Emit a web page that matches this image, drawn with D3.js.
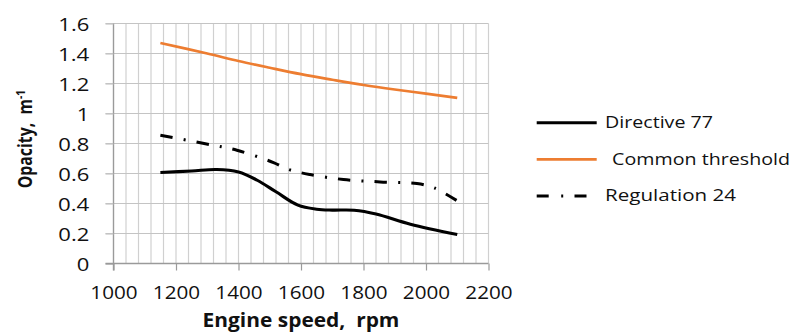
<!DOCTYPE html>
<html>
<head>
<meta charset="utf-8">
<script src="https://cdn.jsdelivr.net/npm/d3@7"></script>
<style>
  html, body { margin: 0; padding: 0; background: #fff; }
  svg { display: block; }
  text { font-family: "Open Sans", sans-serif; fill: #111; white-space: pre; }
</style>
</head>
<body>
<svg id="chart" width="794" height="336"></svg>
<script>
// ---------- data ----------
const d77Speed  = [1150, 1250, 1330, 1400, 1460, 1520, 1590, 1650, 1700, 1770, 1840, 1950, 2100];
const d77Value  = [0.607, 0.617, 0.627, 0.610, 0.555, 0.478, 0.389, 0.362, 0.356, 0.355, 0.330, 0.262, 0.193];

const ctSpeed   = [1150, 1300, 1400, 1500, 1600, 1700, 1800, 1900, 2000, 2100];
const ctValue   = [1.47, 1.40, 1.35, 1.305, 1.262, 1.225, 1.19, 1.16, 1.133, 1.104];

const r24Speed  = [1150, 1290, 1395, 1512, 1560, 1629, 1736, 1853, 1971, 2026, 2100];
const r24Value  = [0.855, 0.80, 0.755, 0.673, 0.627, 0.593, 0.56, 0.544, 0.533, 0.504, 0.418];

const xTicks = [1000, 1200, 1400, 1600, 1800, 2000, 2200];
const yTicks = [0, 0.2, 0.4, 0.6, 0.8, 1, 1.2, 1.4, 1.6];
const seriesNames = ["Directive 77", " Common threshold", "Regulation 24"];

// ---------- layout ----------
const svg = d3.select("#chart");
const x = d3.scaleLinear().domain([1000, 2200]).range([113.5, 488.5]);
const y = d3.scaleLinear().domain([0, 1.6]).range([263.5, 23.5]);

function fitWidth(sel, target, ax, ay) {
  sel.each(function () {
    const w = this.getBBox().width;
    const k = target / w;
    d3.select(this).attr("transform", `translate(${ax},${ay}) scale(${k},1) translate(${-ax},${-ay})`);
  });
}

// grid
const grid = svg.append("g");
grid.selectAll("line.v").data(d3.range(1040, 2201, 40)).join("line")
  .attr("x1", d => x(d)).attr("x2", d => x(d))
  .attr("y1", y(0)).attr("y2", y(1.6))
  .attr("stroke", "#d0d0d0").attr("stroke-width", 1.2);
grid.selectAll("line.h").data(yTicks.slice(1)).join("line")
  .attr("x1", x(1000) - 8).attr("x2", x(2200))
  .attr("y1", d => y(d)).attr("y2", d => y(d))
  .attr("stroke", "#c4c4c4").attr("stroke-width", 1.2);

// axes
const xAxis = svg.append("g").attr("transform", `translate(0,${y(0)})`)
  .call(d3.axisBottom(x).tickValues(xTicks).tickSize(7).tickFormat(d3.format("d")));
xAxis.select(".domain").attr("stroke", "#9a9a9a").attr("stroke-width", 1.4)
  .attr("d", `M${x(1000) - 8},0H${x(2200)}`);
xAxis.selectAll(".tick line").attr("stroke", "#9a9a9a").attr("stroke-width", 1.2);
xAxis.selectAll(".tick text").attr("dy", 0)
  .style("font-family", "'Open Sans', sans-serif").style("font-size", "18.8px").attr("fill", "#111")
  .attr("y", 35.8);

const yAxis = svg.append("g").attr("transform", `translate(${x(1000)},0)`)
  .call(d3.axisLeft(y).tickValues(yTicks).tickSize(8).tickPadding(16).tickFormat(d => d3.format("")(d)));
yAxis.select(".domain").attr("stroke", "#9a9a9a").attr("stroke-width", 1.4)
  .attr("d", `M0,${y(0) + 7}V${y(1.6)}`);
yAxis.selectAll(".tick line").attr("stroke", "#c4c4c4").attr("stroke-width", 1.2);
yAxis.selectAll(".tick text").attr("x", -24.2).attr("dy", "0.35em")
  .style("font-family", "'Open Sans', sans-serif").style("font-size", "18.8px").attr("fill", "#111");
yAxis.selectAll(".tick line").filter(d => d === 0).attr("stroke", "#9a9a9a");

// stretch tick labels to match reference widths
(function () {
  const xt = xAxis.selectAll(".tick text");
  const w0 = xt.nodes()[0].getBBox().width;
  const kx = 47.3 / w0;
  xt.each(function () {
    const w = this.getBBox().width;
    d3.select(this).attr("textLength", w * kx).attr("lengthAdjust", "spacingAndGlyphs");
  });
  const yt = yAxis.selectAll(".tick text");
  const n16 = yt.filter(d => d === 1.6).node();
  const ky = 31 / n16.getBBox().width;
  yt.each(function () {
    const w = this.getBBox().width;
    d3.select(this).attr("textLength", w * ky).attr("lengthAdjust", "spacingAndGlyphs");
  });
})();

// lines
const line = d3.line().x(d => x(d[0])).y(d => y(d[1])).curve(d3.curveCatmullRom.alpha(0.5));
const d77 = d77Speed.map((s, i) => [s, d77Value[i]]);
const ct = ctSpeed.map((s, i) => [s, ctValue[i]]);
const r24 = r24Speed.map((s, i) => [s, r24Value[i]]);

svg.append("path").datum(ct).attr("d", line)
  .attr("fill", "none").attr("stroke", "#ED7D31").attr("stroke-width", 2.7);
svg.append("path").datum(r24).attr("d", line)
  .attr("fill", "none").attr("stroke", "#000").attr("stroke-width", 3)
  .attr("stroke-dasharray", "12.5,11.2,2,11");
svg.append("path").datum(d77).attr("d", line)
  .attr("fill", "none").attr("stroke", "#000").attr("stroke-width", 3.1);

// axis titles
const xt = svg.append("text").attr("x", 301).attr("y", 326.7).attr("text-anchor", "middle")
  .attr("xml:space", "preserve")
  .style("font-weight", "bold").style("font-size", "19px").text("Engine speed,  rpm");
fitWidth(xt, 197, 301, 326.7);

const ytG = svg.append("g").attr("transform", "translate(31.5,188.3) rotate(-90)");
const ytT = ytG.append("text").attr("x", 0).attr("y", 0).attr("xml:space", "preserve")
  .style("font-weight", "bold").style("font-size", "19px");
ytT.append("tspan").text("Opacity,  m");
ytT.append("tspan").attr("dy", -7).style("font-size", "12px").text("-1");
fitWidth(ytT, 98.3, 0, 0);

// legend
const legY = [122.7, 159.3, 195.9];
const legTextX = [605, 607, 605];
const legW = [108, 183, 131.7];
const legStroke = ["#000", "#ED7D31", "#000"];
const legDash = [null, null, "12,12.5,2,11.3"];
const legWidth = [3, 2.7, 3];
const leg = svg.append("g");
seriesNames.forEach((name, i) => {
  leg.append("line").attr("x1", 536.7).attr("x2", 596.7).attr("y1", legY[i]).attr("y2", legY[i])
    .attr("stroke", legStroke[i]).attr("stroke-width", legWidth[i])
    .attr("stroke-dasharray", legDash[i]);
  const t = leg.append("text").attr("x", legTextX[i]).attr("y", legY[i] + 5.5)
    .style("font-size", "16.6px").attr("xml:space", "preserve").text(name);
  fitWidth(t, legW[i], legTextX[i], legY[i] + 5.5);
});
</script>
</body>
</html>
